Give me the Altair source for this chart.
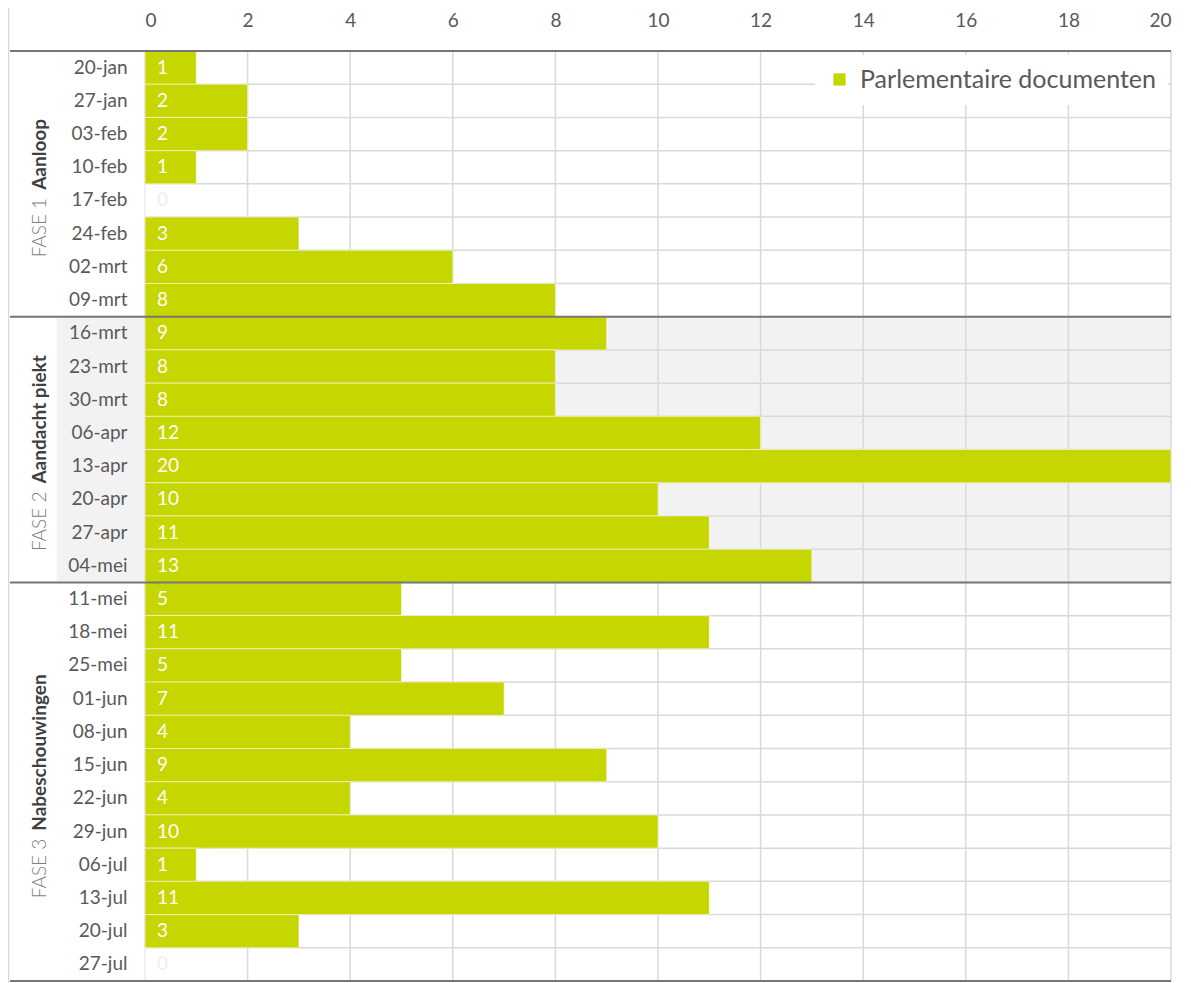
import altair as alt
import pandas as pd

# ---------------- data ----------------
dates = ["20-jan", "27-jan", "03-feb", "10-feb", "17-feb", "24-feb", "02-mrt", "09-mrt",
         "16-mrt", "23-mrt", "30-mrt", "06-apr", "13-apr", "20-apr", "27-apr", "04-mei",
         "11-mei", "18-mei", "25-mei", "01-jun", "08-jun", "15-jun", "22-jun", "29-jun",
         "06-jul", "13-jul", "20-jul", "27-jul"]
values = [1, 2, 2, 1, 0, 3, 6, 8,
          9, 8, 8, 12, 20, 10, 11, 13,
          5, 11, 5, 7, 4, 9, 4, 10, 1, 11, 3, 0]
phase_of_row = [1] * 8 + [2] * 8 + [3] * 12
phase_ids = [1, 2, 3]
phase_light = ["FASE 1", "FASE 2", "FASE 3"]
phase_bold = ["Aanloop", "Aandacht piekt", "Nabeschouwingen"]
x_ticks = [0, 2, 4, 6, 8, 10, 12, 14, 16, 18, 20]
series_name = "Parlementaire documenten"

# ---------------- styles ----------------
GREEN = "#c5d600"
GRID = "#d9d9d9"
TEXT = "#595959"
FONT = "Lato"
W, H = 1026, 930
label_shift = [-10, -38, -53]   # offset of the light/bold split from phase centre (px)

df = pd.DataFrame({"date": dates, "value": values, "phase": phase_of_row,
                   "series": series_name})

first_rows, mid_rows = [], []
for p in phase_ids:
    idx = [i for i, v in enumerate(phase_of_row) if v == p]
    first_rows.append(dates[idx[0]])
    mid_rows.append(dates[idx[0] + len(idx) // 2])

df_first = pd.DataFrame({"date": first_rows})
df_last = pd.DataFrame({"date": [dates[-1]]})
df_ph = pd.DataFrame({"phase": phase_ids, "light": phase_light, "bold": phase_bold,
                      "mid": mid_rows})
df_ticks = pd.DataFrame({"t": x_ticks})

yscale = alt.Scale(domain=dates, paddingInner=0, paddingOuter=0)
xscale = alt.Scale(domain=[0, 20], nice=False)

xaxis = alt.Axis(orient="top", values=x_ticks, grid=False, domain=False, ticks=False,
                 labelFont=FONT, labelFontSize=19, labelColor=TEXT, labelPadding=21,
                 format="d", title=None)
yaxis = alt.Axis(domain=False, ticks=False, grid=False, labelFont=FONT, labelFontSize=19,
                 labelColor=TEXT, labelPadding=18, title=None)


def Yband(field="date", bp=None):
    kw = dict(scale=yscale, title=None, axis=yaxis)
    if bp is not None:
        kw["bandPosition"] = bp
    return alt.Y(f"{field}:N", **kw)


bg = alt.Chart(df).transform_filter("datum.phase == 2").mark_rect(
    color="#f2f2f2", stroke="#f2f2f2", strokeWidth=0.6
).encode(x=alt.value(-88), x2=alt.value(W), y=Yband())

vgrid = alt.Chart(df_ticks).mark_rule(color=GRID, strokeWidth=1.5).encode(
    x=alt.X("t:Q", scale=xscale, axis=xaxis, title=None),
    y=alt.value(0), y2=alt.value(H))

rowsep = alt.Chart(df).mark_rule(color=GRID, strokeWidth=1.5).encode(
    y=Yband(bp=0), x=alt.value(0), x2=alt.value(W))

bars = alt.Chart(df).mark_bar(stroke="white", strokeWidth=1, strokeOpacity=0.55).encode(
    x=alt.X("value:Q", scale=xscale, axis=xaxis, title=None),
    y=Yband(),
    color=alt.Color("series:N",
                    scale=alt.Scale(domain=[series_name], range=[GREEN]),
                    legend=alt.Legend(title=None, orient="none", legendX=670, legendY=4,
                                      fillColor="white", padding=12,
                                      symbolType="square", symbolSize=150,
                                      symbolStrokeWidth=0, symbolOffset=0,
                                      labelFont=FONT, labelFontSize=25,
                                      labelColor=TEXT, labelOffset=8, labelLimit=400)))

vlabels = alt.Chart(df).mark_text(align="left", baseline="middle", dx=12, font=FONT,
                                  fontSize=19).encode(
    x=alt.datum(0),
    y=Yband(),
    text="value:Q",
    color=alt.when(alt.datum.value == 0).then(alt.value("#eeeeee")).otherwise(alt.value("white")))

plines = alt.Chart(df_first).mark_rule(color="#767676", strokeWidth=2).encode(
    y=Yband(bp=0), x=alt.value(-135), x2=alt.value(W))

bline = alt.Chart(df_last).mark_rule(color="#767676", strokeWidth=2).encode(
    y=Yband(bp=1), x=alt.value(-135), x2=alt.value(W))

border = alt.Chart(df_last).mark_rule(color=GRID, strokeWidth=1.5).encode(
    x=alt.value(-136.5), y=alt.value(-43), y2=alt.value(H + 2))

ptexts = []
for p, shift in zip(phase_ids, label_shift):
    base = alt.Chart(df_ph).transform_filter(f"datum.phase == {p}")
    ptexts.append(base.mark_text(angle=270, align="right", baseline="middle", dx=shift - 4,
                                 font=FONT, fontSize=19, fontWeight=300,
                                 color="#7f7f7f").encode(
        x=alt.value(-105), y=Yband("mid", bp=0), text="light:N"))
    ptexts.append(base.mark_text(angle=270, align="left", baseline="middle", dx=shift + 4,
                                 font=FONT, fontSize=19, fontWeight="bold",
                                 color="#404040").encode(
        x=alt.value(-105), y=Yband("mid", bp=0), text="bold:N"))

chart = alt.layer(bg, vgrid, rowsep, bars, vlabels, plines, bline, border, *ptexts).properties(
    width=W, height=H,
    autosize=alt.AutoSizeParams(type="none"),
    padding={"left": 137, "top": 43, "right": 12, "bottom": 2},
    background="white",
).configure_view(stroke=None)

chart.save("out.html", embed_options={"renderer": "svg", "actions": False})
